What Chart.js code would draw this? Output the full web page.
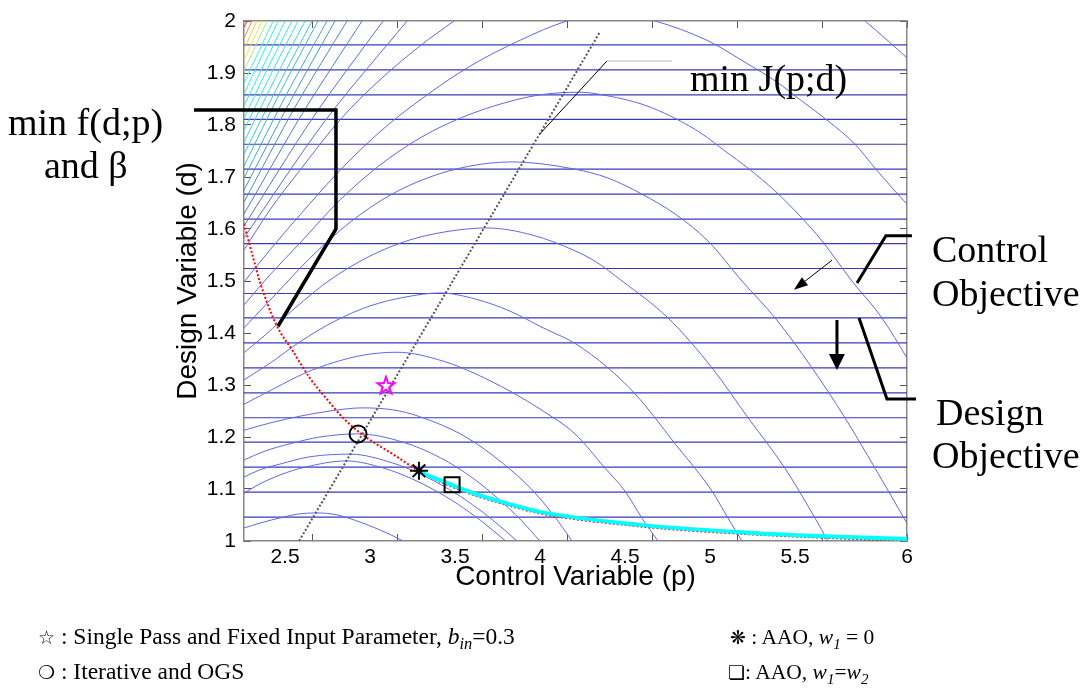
<!DOCTYPE html>
<html>
<head>
<meta charset="utf-8">
<script src="https://cdn.jsdelivr.net/npm/chart.js@4.4.0/dist/chart.umd.min.js"></script>
<style>
  body { margin: 0; background: #fff; }
  #wrap { position: relative; width: 1086px; height: 694px; overflow: hidden; }
  #chart { position: absolute; left: 0; top: 0; }
  .note { position: absolute; font-family: 'Liberation Serif', serif; font-size: 38px; line-height: 38px; color: #000; white-space: nowrap; }
  .key { position: absolute; font-family: 'Liberation Serif', serif; font-size: 23.5px; line-height: 23px; color: #000; white-space: nowrap; }
  .key.right { font-size: 21.5px; }
  .key sub { font-size: 70%; vertical-align: -5px; line-height: 0; }
  .sym { font-family: 'DejaVu Sans', sans-serif; font-size: 19px; }
</style>
</head>
<body>
<div id="wrap">
  <canvas id="chart" width="1086" height="694"></canvas>
  <div class="note" style="left:8px;top:103px">min f(d;p)</div>
  <div class="note" style="left:44px;top:146px">and β</div>
  <div class="note" style="left:690px;top:59px">min J(p;d)</div>
  <div class="note" style="left:932px;top:230px">Control</div>
  <div class="note" style="left:932px;top:274px">Objective</div>
  <div class="note" style="left:936px;top:393px">Design</div>
  <div class="note" style="left:932px;top:436px">Objective</div>
  <div class="key" style="left:38px;top:625px"><span class="sym">☆</span> : Single Pass and Fixed Input Parameter, <i>b<sub>in</sub></i>=0.3</div>
  <div class="key" style="left:38px;top:660px"><span class="sym">❍</span> : Iterative and OGS</div>
  <div class="key right" style="left:730px;top:626px"><span class="sym">❋</span> : AAO, <i>w<sub>1</sub></i> = 0</div>
  <div class="key right" style="left:728px;top:661px"><span class="sym">❏</span>: AAO, <i>w<sub>1</sub></i>=<i>w<sub>2</sub></i></div>
</div>
<script>
// axis ticks
const xTickValues = [2.5, 3, 3.5, 4, 4.5, 5, 5.5, 6];
const xTickLabels = ['2.5', '3', '3.5', '4', '4.5', '5', '5.5', '6'];
const yTickValues = [1, 1.1, 1.2, 1.3, 1.4, 1.5, 1.6, 1.7, 1.8, 1.9, 2];
const yTickLabels = ['1', '1.1', '1.2', '1.3', '1.4', '1.5', '1.6', '1.7', '1.8', '1.9', '2'];

// design objective contours (horizontal, d levels)
const designLevels = [1.954, 1.906, 1.858, 1.811, 1.763, 1.715, 1.667, 1.619, 1.572, 1.524,
  1.476, 1.429, 1.381, 1.333, 1.285, 1.237, 1.190, 1.142, 1.094, 1.046];

// control objective contours, [p, d]
const arcG = [[2.1,1.025],[2.2,1.035],[2.319,1.045],[2.42,1.052],[2.53,1.054],[2.65,1.05],[2.834,1.03],[2.963,1.012],[3.035,1.0]];
const arcF = [[2.1,1.092],[2.194,1.110],[2.312,1.127],[2.459,1.142],[2.702,1.154],[2.923,1.14],[3.085,1.12],[3.209,1.10],[3.362,1.07],[3.49,1.04],[3.639,1.0]];
const arcE = [[2.1,1.123],[2.194,1.137],[2.312,1.148],[2.488,1.162],[2.726,1.167],[2.975,1.15],[3.129,1.13],[3.303,1.10],[3.443,1.07],[3.564,1.04],[3.706,1.0]];
const arcD = [[2.1,1.156],[2.224,1.173],[2.371,1.187],[2.547,1.2],[2.77,1.206],[3.036,1.19],[3.256,1.16],[3.45,1.12],[3.6,1.08],[3.73,1.04],[3.84,1.0]];
const arcC = [[2.1,1.213],[2.253,1.227],[2.429,1.240],[2.606,1.25],[2.794,1.256],[2.98,1.252],[3.126,1.24],[3.405,1.2],[3.62,1.15],[3.79,1.1],[3.92,1.05],[4.03,1.0]];
const arcB = [[2.1,1.263],[2.282,1.294],[2.459,1.323],[2.635,1.344],[2.812,1.358],[3.0,1.363],[3.271,1.346],[3.465,1.321],[3.665,1.288],[3.859,1.25],[4.047,1.206],[4.224,1.14],[4.341,1.096],[4.441,1.044],[4.535,1.0]];
const arcA = [[2.1,1.310],[2.253,1.342],[2.429,1.383],[2.635,1.423],[2.841,1.452],[3.047,1.469],[3.253,1.477],[3.465,1.465],[3.665,1.442],[3.859,1.41],[4.047,1.38],[4.241,1.333],[4.4,1.283],[4.518,1.237],[4.635,1.187],[4.753,1.14],[4.853,1.096],[4.947,1.044],[5.029,1.0]];
const arcJ = [[2.1,1.362],[2.224,1.396],[2.4,1.448],[2.606,1.502],[2.841,1.548],[3.076,1.579],[3.312,1.596],[3.529,1.602],[3.8,1.588],[4.047,1.558],[4.165,1.538],[4.324,1.5],[4.594,1.429],[4.853,1.333],[5.065,1.237],[5.282,1.14],[5.459,1.044],[5.535,1.0]];
const arcI = [[2.1,1.410],[2.282,1.473],[2.488,1.544],[2.724,1.613],[2.959,1.665],[3.194,1.7],[3.429,1.721],[3.671,1.729],[4.047,1.715],[4.241,1.698],[4.441,1.667],[4.635,1.629],[4.829,1.577],[5.029,1.5],[5.224,1.429],[5.441,1.333],[5.635,1.237],[5.812,1.14],[6.0,1.034]];
const arcH = [[2.1,1.454],[2.253,1.512],[2.429,1.573],[2.665,1.656],[2.9,1.723],[3.135,1.775],[3.371,1.813],[3.606,1.840],[3.841,1.858],[4.076,1.863],[4.241,1.856],[4.441,1.840],[4.635,1.813],[4.794,1.783],[4.929,1.75],[5.065,1.717],[5.224,1.673],[5.382,1.621],[5.5,1.577],[5.676,1.5],[5.853,1.429],[6.0,1.352]];
const arcTop1 = [[2.1,1.498],[2.253,1.560],[2.429,1.627],[2.665,1.713],[2.9,1.787],[3.135,1.848],[3.429,1.913],[3.724,1.963],[4.0,2.0],[4.26,2.016],[4.518,2.0],[4.829,1.962],[5.065,1.917],[5.224,1.885],[5.382,1.846],[5.535,1.808],[5.694,1.763],[5.812,1.717],[5.929,1.673],[6.0,1.648]];
const arcTop2Left = [[2.1,1.560],[2.253,1.637],[2.429,1.713],[2.665,1.810],[2.9,1.887],[3.135,1.952],[3.335,2.0]];
const arcTop2Right = [[5.753,2.0],[5.888,1.962],[6.0,1.929]];
// steep contours in the upper left corner (highest level first): top crossing, bend, left edge
const cornerLines = [
  [[2.118,2],[2.1,1.988]],
  [[2.147,2],[2.1,1.967]],
  [[2.176,2],[2.1,1.946]],
  [[2.206,2],[2.1,1.925]],
  [[2.235,2],[2.1,1.904]],
  [[2.271,2],[2.1,1.881]],
  [[2.3,2],[2.1,1.860]],
  [[2.341,2],[2.1,1.837]],
  [[2.382,2],[2.241,1.910],[2.1,1.813]],
  [[2.418,2],[2.259,1.898],[2.1,1.790]],
  [[2.459,2],[2.279,1.887],[2.1,1.767]],
  [[2.5,2],[2.3,1.875],[2.1,1.744]],
  [[2.535,2],[2.318,1.866],[2.1,1.721]],
  [[2.588,2],[2.344,1.855],[2.1,1.698]],
  [[2.635,2],[2.368,1.843],[2.1,1.675]],
  [[2.706,2],[2.403,1.836],[2.1,1.652]],
  [[2.794,2],[2.447,1.824],[2.1,1.629]],
  [[2.918,2],[2.509,1.816],[2.1,1.606]],
  [[3.059,2],[2.579,1.809],[2.1,1.583]]
];

// optimisation paths
const minJLine = [[2.424,1.0],[4.194,1.979]];
const redPath = [[2.1,1.61],[2.153,1.546],[2.194,1.498],[2.288,1.417],[2.388,1.365],[2.488,1.313],[2.582,1.275],[2.682,1.237],[2.782,1.208],[2.876,1.187],[2.976,1.167],[3.112,1.138],[3.253,1.114],[3.447,1.089],[3.65,1.069],[3.841,1.053],[4.429,1.028],[5.018,1.014],[5.606,1.005],[6.0,1.001]];
const cyanPath = [[3.129,1.133],[3.253,1.117],[3.447,1.092],[3.65,1.072],[3.841,1.056],[4.429,1.031],[5.018,1.017],[5.606,1.008],[6.0,1.004]];

// solutions
const singlePass = [2.935, 1.3];
const iterative = [2.771, 1.206];
const aaoW0 = [3.129, 1.135];
const aaoEqual = [3.324, 1.108];

// annotation anchors [p, d]
const fBracket = [[1.806,1.829],[2.641,1.829],[2.641,1.6],[2.3,1.413]];
const jPointer = [[3.841,1.783],[4.235,1.923]];
const jLeader = [[4.235,1.923],[4.618,1.923]];
const controlBracket = [[6.029,1.587],[5.876,1.587],[5.706,1.496]];
const controlArrow = [[5.559,1.540],[5.335,1.483]];
const designBracket = [[5.718,1.429],[5.882,1.273],[6.053,1.273]];
const designArrow = [[5.588,1.425],[5.588,1.329]];

const cornerColors = ['#ff2020', '#ff8c30', '#f0d040', '#e8e840', '#a8ec80', '#40f0e0', '#20f4f4',
  '#20f0f0', '#28ecf0', '#30e4ec', '#34d8e4', '#38c8dc', '#3cb8d0', '#40a8c8', '#4498c4',
  '#4a88cc', '#5078d8', '#566ce4', '#5c66ec'];
const arcColor = '#6464ee';
const designColor = '#3a3ab8';

const datasets = [];
function addLine(points, color, width, dash, smooth) {
  datasets.push({
    data: points.map(([p, d]) => ({x: p, y: d})),
    showLine: true, borderColor: color, borderWidth: width, borderDash: dash || [],
    pointRadius: 0, cubicInterpolationMode: smooth === 'tension' ? 'default' : 'monotone',
    tension: smooth === 'tension' ? 0.3 : 0.4, clip: 0, fill: false
  });
}
function addMarker(pt, style, radius, color) {
  datasets.push({
    data: [{x: pt[0], y: pt[1]}], showLine: false, pointStyle: style, pointRadius: radius,
    borderColor: color, borderWidth: 2, backgroundColor: 'rgba(0,0,0,0)', clip: false
  });
}
function pentagram(size, color) {
  const c = document.createElement('canvas');
  c.width = c.height = size;
  const g = c.getContext('2d');
  const r = size / 2 - 2, ri = r * 0.4, cx = size / 2, cy = size / 2 + 1;
  g.beginPath();
  for (let i = 0; i < 10; i++) {
    const a = -Math.PI / 2 + i * Math.PI / 5;
    const rr = i % 2 ? ri : r;
    g.lineTo(cx + rr * Math.cos(a), cy + rr * Math.sin(a));
  }
  g.closePath();
  g.strokeStyle = color;
  g.lineWidth = 2;
  g.stroke();
  return c;
}

// bottom to top
designLevels.forEach(d => addLine([[2.09, d], [6.01, d]], designColor, 1.2));
[arcG, arcF, arcE, arcD, arcC, arcB, arcA, arcJ, arcI, arcH, arcTop1, arcTop2Left, arcTop2Right]
  .forEach(a => addLine(a, arcColor, 1));
cornerLines.forEach((l, i) => addLine(l, cornerColors[i], 1, null, 'tension'));
addLine(minJLine, '#555', 2, [2, 2]);
addLine(redPath, '#ff0000', 2, [2, 2]);
addLine(cyanPath, '#00ffff', 4);
addMarker(aaoEqual, 'rect', 10.6, '#000');
addMarker(iterative, 'circle', 8.5, '#000');
addMarker(aaoW0, 'star', 9, '#000');
addMarker(singlePass, pentagram(22, '#ff00ff'), 11, '#ff00ff');
datasets.reverse();

const notes = {
  id: 'notes',
  afterDatasetsDraw(chart) {
    const {ctx, scales: {x, y}} = chart;
    const pt = ([p, d]) => [x.getPixelForValue(p), y.getPixelForValue(d)];
    function path(pts, color, width) {
      ctx.save();
      ctx.strokeStyle = color;
      ctx.lineWidth = width;
      ctx.beginPath();
      pts.map(pt).forEach(([px, py], i) => i ? ctx.lineTo(px, py) : ctx.moveTo(px, py));
      ctx.stroke();
      ctx.restore();
    }
    function arrow(pts, width, len, half) {
      const [a, b] = pts.map(pt);
      const ang = Math.atan2(b[1] - a[1], b[0] - a[0]);
      const bx = b[0] - len * Math.cos(ang), by = b[1] - len * Math.sin(ang);
      ctx.save();
      ctx.strokeStyle = '#000';
      ctx.lineWidth = width;
      ctx.beginPath();
      ctx.moveTo(a[0], a[1]);
      ctx.lineTo(bx, by);
      ctx.stroke();
      ctx.fillStyle = '#000';
      ctx.beginPath();
      ctx.moveTo(b[0], b[1]);
      ctx.lineTo(bx + half * Math.sin(ang), by - half * Math.cos(ang));
      ctx.lineTo(bx - half * Math.sin(ang), by + half * Math.cos(ang));
      ctx.closePath();
      ctx.fill();
      ctx.restore();
    }
    path(fBracket, '#000', 3.5);
    path(jPointer, '#000', 1);
    path(jLeader, '#bbbbbb', 1);
    path(controlBracket, '#000', 3);
    path(designBracket, '#000', 3);
    arrow(controlArrow, 1, 14, 5);
    arrow(designArrow, 3, 16, 8);
  }
};

const tickFont = {family: 'Liberation Sans', size: 21};
const titleFont = {family: 'Liberation Sans', size: 28};
const frame = {color: '#888', width: 1.5};
const inTicks = {drawOnChartArea: false, drawTicks: true, tickLength: -7, color: '#555'};
// keep the plot box where the picture has it: no extra room for half tick labels
const noOverhang = s => { s.paddingTop = 0; s.paddingBottom = 0; s.paddingLeft = 0; s.paddingRight = 0; };

new Chart(document.getElementById('chart'), {
  type: 'scatter',
  data: {datasets},
  options: {
    responsive: false,
    animation: false,
    events: [],
    layout: {padding: {left: 167, top: 21, right: 179, bottom: 96}},
    plugins: {legend: {display: false}, tooltip: {enabled: false}},
    scales: {
      x: {
        type: 'linear', position: 'bottom', min: 2.1, max: 6, weight: 1,
        afterBuildTicks: s => { s.ticks = xTickValues.map(v => ({value: v})); },
        afterFit: s => { s.height = 57; noOverhang(s); },
        ticks: {autoSkip: false, maxRotation: 0, padding: 11, labelOffset: -27, font: tickFont, color: '#000',
          callback: (v, i) => i === xTickLabels.length - 1 ? '' : xTickLabels[i]},
        grid: inTicks, border: frame,
        title: {display: true, text: 'Control Variable (p)', font: titleFont, color: '#000', padding: {top: 0, bottom: 4}}
      },
      xSix: {
        type: 'linear', position: 'bottom', min: 2.1, max: 6, weight: 0,
        afterBuildTicks: s => { s.ticks = [{value: xTickValues[xTickValues.length - 1]}]; },
        afterFit: s => { s.height = 0; noOverhang(s); },
        ticks: {autoSkip: false, maxRotation: 0, mirror: true, padding: -29, font: tickFont, color: '#000',
          callback: () => xTickLabels[xTickLabels.length - 1]},
        grid: {display: false}, border: {display: false}
      },
      xTop: {
        type: 'linear', position: 'top', min: 2.1, max: 6,
        afterBuildTicks: s => { s.ticks = xTickValues.map(v => ({value: v})); },
        afterFit: s => { s.height = 0; noOverhang(s); },
        ticks: {display: false}, grid: inTicks, border: frame
      },
      y: {
        type: 'linear', position: 'left', min: 1, max: 2,
        afterBuildTicks: s => { s.ticks = yTickValues.map(v => ({value: v})); },
        afterFit: s => { s.width = 77; noOverhang(s); },
        ticks: {autoSkip: false, padding: 15, font: tickFont, color: '#000', callback: (v, i) => yTickLabels[i]},
        grid: inTicks, border: frame,
        title: {display: true, text: 'Design Variable (d)', font: titleFont, color: '#000', padding: {top: 4, bottom: 0}}
      },
      yRight: {
        type: 'linear', position: 'right', min: 1, max: 2,
        afterBuildTicks: s => { s.ticks = yTickValues.map(v => ({value: v})); },
        afterFit: s => { s.width = 0; noOverhang(s); },
        ticks: {display: false}, grid: inTicks, border: frame
      }
    }
  },
  plugins: [notes]
});
</script>
</body>
</html>
